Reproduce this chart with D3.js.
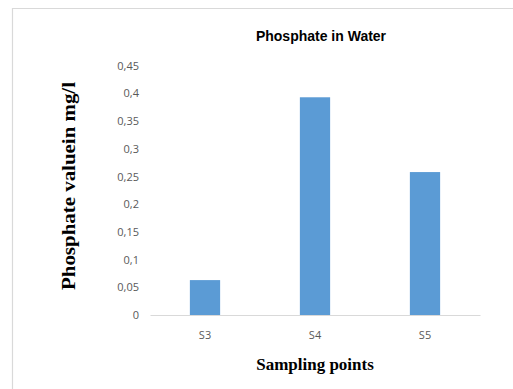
<!DOCTYPE html>
<html>
<head>
<meta charset="utf-8">
<script src="https://cdn.jsdelivr.net/npm/d3@7"></script>
<style>
  html, body { margin: 0; padding: 0; background: #fff; }
  svg { display: block; }
</style>
</head>
<body>
<svg id="chart" width="513" height="389"></svg>
<script>
// Phosphate concentration at each sampling point (mg/l)
const categories = ["S3", "S4", "S5"];
const values = [0.063, 0.393, 0.258];
const yTicks = [0, 0.05, 0.1, 0.15, 0.2, 0.25, 0.3, 0.35, 0.4, 0.45];
const tickLabels = ["0", "0,05", "0,1", "0,15", "0,2", "0,25", "0,3", "0,35", "0,4", "0,45"];

const svg = d3.select("#chart");
const plot = { left: 150, right: 480, top: 65.7, bottom: 315 };

// Chart frame (left and top edges)
svg.append("path")
  .attr("d", "M12.5,389 V8.5 H513")
  .attr("fill", "none")
  .attr("stroke", "#d9d9d9")
  .attr("stroke-width", 1.2);

const x = d3.scaleBand().domain(categories).range([plot.left, plot.right]).padding(0);
const y = d3.scaleLinear().domain([0, 0.45]).range([plot.bottom, plot.top]);
const barW = x.bandwidth() * 0.275;

// Bars
svg.append("g").selectAll("rect")
  .data(values)
  .join("rect")
  .attr("x", (d, i) => x(categories[i]) + x.bandwidth() / 2 - barW / 2)
  .attr("y", d => y(d))
  .attr("width", barW)
  .attr("height", d => y(0) - y(d))
  .attr("fill", "#5b9bd5");

// Category axis
const xAxis = svg.append("g")
  .attr("transform", `translate(0,${plot.bottom})`)
  .call(d3.axisBottom(x).tickSize(0).tickPadding(16));
xAxis.select(".domain").attr("stroke", "#d9d9d9").attr("stroke-width", 1);
xAxis.selectAll("text")
  .attr("fill", "#595959")
  .style("font-family", "'Open Sans', 'Liberation Sans', sans-serif")
  .style("font-size", "11px");

// Value axis labels
const yAxis = svg.append("g")
  .attr("transform", `translate(${plot.left},0)`)
  .call(d3.axisLeft(y).tickValues(yTicks).tickSize(0).tickPadding(11)
    .tickFormat((d, i) => tickLabels[i]));
yAxis.select(".domain").remove();
yAxis.selectAll("text")
  .attr("fill", "#595959")
  .style("font-family", "'Open Sans', 'Liberation Sans', sans-serif")
  .style("font-size", "11px");

// Title
svg.append("text")
  .attr("x", 321).attr("y", 41)
  .attr("text-anchor", "middle")
  .style("font-family", "'Liberation Sans Narrow', 'Liberation Sans', Arial, sans-serif")
  .style("font-weight", "bold")
  .style("font-size", "14px")
  .attr("fill", "#000")
  .text("Phosphate in Water");

// Axis titles
svg.append("text")
  .attr("x", 315).attr("y", 370)
  .attr("text-anchor", "middle")
  .style("font-family", "'Liberation Serif', 'Times New Roman', serif")
  .style("font-weight", "bold")
  .style("font-size", "17px")
  .attr("fill", "#000")
  .text("Sampling points");

svg.append("text")
  .attr("transform", "translate(75,186) rotate(-90)")
  .attr("text-anchor", "middle")
  .attr("textLength", 208)
  .attr("lengthAdjust", "spacingAndGlyphs")
  .style("font-family", "'Liberation Serif', 'Times New Roman', serif")
  .style("font-weight", "bold")
  .style("font-size", "18px")
  .attr("fill", "#000")
  .text("Phosphate valuein mg/l");
</script>
</body>
</html>
